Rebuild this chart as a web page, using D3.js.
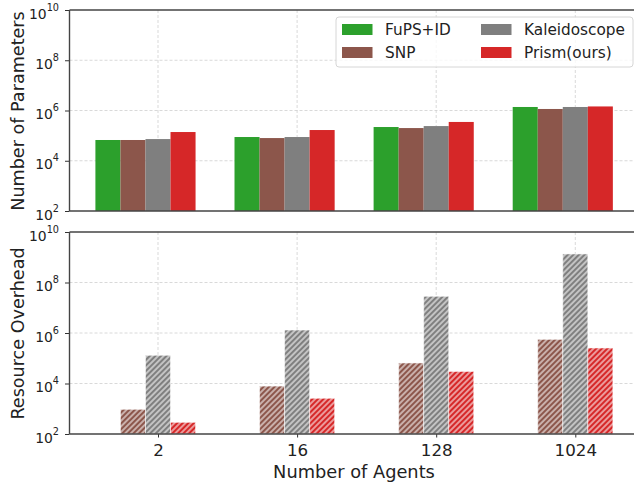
<!DOCTYPE html>
<html>
<head>
<meta charset="utf-8">
<script src="https://cdn.jsdelivr.net/npm/d3@7"></script>
<style>
  body { margin: 0; background: #fff; }
  svg { font-family: "DejaVu Sans", sans-serif; display: block; }
</style>
</head>
<body>
<script>
// chart data
var agents = ["2", "16", "128", "1024"];
var methods = ["FuPS+ID", "SNP", "Kaleidoscope", "Prism(ours)"];
var methodColors = ["#2ca02c", "#8c564b", "#7f7f7f", "#d62728"];

var paramsFuPS = [6.7e4, 8.8e4, 2.2e5, 1.38e6];
var paramsSNP = [6.7e4, 8.0e4, 2.0e5, 1.15e6];
var paramsKaleido = [7.3e4, 8.8e4, 2.4e5, 1.38e6];
var paramsPrism = [1.39e5, 1.67e5, 3.5e5, 1.45e6];

var overheadSNP = [950, 7.9e3, 6.5e4, 5.6e5];
var overheadKaleido = [1.31e5, 1.31e6, 2.84e7, 1.35e9];
var overheadPrism = [290, 2.6e3, 3.0e4, 2.55e5];

var yTicks = [1e2, 1e4, 1e6, 1e8, 1e10];

var width = 634, height = 485;
var left = 69.5, right = 639;
var barFrac = 0.18;
var hatchGap = 3.93;

var svg = d3.select("body").append("svg")
            .attr("width", width)
            .attr("height", height);

// hatch pattern for the overhead bars ("///")
var defs = svg.append("defs");
methodColors.forEach(function(c, i) {
  var p = defs.append("pattern")
              .attr("id", "hatch" + i)
              .attr("patternUnits", "userSpaceOnUse")
              .attr("width", hatchGap)
              .attr("height", hatchGap)
              .attr("patternTransform", "rotate(45)");
  p.append("rect").attr("width", hatchGap).attr("height", hatchGap).attr("fill", c);
  p.append("line")
   .attr("x1", hatchGap / 2).attr("y1", 0).attr("x2", hatchGap / 2).attr("y2", hatchGap)
   .attr("stroke", "#fff").attr("stroke-width", 1.05);
});

var x = d3.scalePoint().domain(agents).range([158, 575.3]);
var bw = x.step() * barFrac;

function panel(top, bottom, series, showX, label) {
  var g = svg.append("g");
  var y = d3.scaleLog().domain([1e2, 1e10]).range([bottom, top]);

  // grid
  g.selectAll(".hgrid").data(yTicks.slice(1, -1)).enter().append("line")
   .attr("x1", left).attr("x2", right)
   .attr("y1", function(d) { return y(d); })
   .attr("y2", function(d) { return y(d); })
   .attr("stroke", "#cfcfcf").attr("stroke-width", 0.8)
   .attr("stroke-dasharray", "3,2");
  g.selectAll(".vgrid").data(agents).enter().append("line")
   .attr("x1", function(d) { return x(d); })
   .attr("x2", function(d) { return x(d); })
   .attr("y1", top).attr("y2", bottom)
   .attr("stroke", "#cfcfcf").attr("stroke-width", 0.8)
   .attr("stroke-dasharray", "3,2");

  // bars
  series.forEach(function(s) {
    g.selectAll(null).data(s.values).enter().append("rect")
     .attr("x", function(d, i) { return x(agents[i]) + (s.offset - 0.5) * bw; })
     .attr("y", function(d) { return y(d); })
     .attr("width", bw)
     .attr("height", function(d) { return bottom - y(d); })
     .attr("fill", s.hatch ? "url(#hatch" + s.idx + ")" : methodColors[s.idx])
     .attr("stroke", s.hatch ? "rgba(255,255,255,0.55)" : "none")
     .attr("stroke-width", 1);
  });

  // y axis, labels as 10 with a superscript exponent
  var yAxis = g.append("g")
               .attr("transform", "translate(" + left + ",0)")
               .call(d3.axisLeft(y).tickValues(yTicks).tickSize(4.5).tickPadding(6).tickFormat(function() { return ""; }));
  yAxis.select(".domain").remove();
  yAxis.selectAll(".tick line").attr("stroke", "#333");
  yAxis.selectAll(".tick text").each(function(d) {
    var t = d3.select(this)
              .attr("font-family", "DejaVu Sans")
              .attr("fill", "#222")
              .attr("dy", null)
              .attr("y", 8);
    t.append("tspan").attr("font-size", 13.9).text("10");
    t.append("tspan").attr("font-size", 9.7).attr("dy", -8).text(Math.round(Math.log10(d)));
  });

  // x axis
  var xAxis = g.append("g")
               .attr("transform", "translate(0," + bottom + ")")
               .call(d3.axisBottom(x).tickSize(showX ? 3.5 : 0));
  xAxis.select(".domain").remove();
  xAxis.selectAll(".tick line").attr("stroke", "#333");
  xAxis.selectAll(".tick text")
       .attr("font-family", "DejaVu Sans")
       .attr("font-size", 16.7)
       .attr("fill", "#222")
       .attr("y", 22)
       .attr("dy", null)
       .style("display", showX ? null : "none");

  // spines
  g.append("line").attr("x1", left).attr("x2", right).attr("y1", top).attr("y2", top)
   .attr("stroke", "#444").attr("stroke-width", 1.4);
  g.append("line").attr("x1", left).attr("x2", right).attr("y1", bottom).attr("y2", bottom)
   .attr("stroke", "#444").attr("stroke-width", 1.4);
  g.append("line").attr("x1", left).attr("x2", left).attr("y1", top).attr("y2", bottom)
   .attr("stroke", "#444").attr("stroke-width", 1.4);

  svg.append("text")
     .attr("transform", "translate(23.5," + ((top + bottom) / 2 + 0.5) + ") rotate(-90)")
     .attr("text-anchor", "middle")
     .attr("font-size", 17.6)
     .attr("fill", "#222")
     .text(label);
}

panel(10, 211, [
  {values: paramsFuPS, idx: 0, offset: -2},
  {values: paramsSNP, idx: 1, offset: -1},
  {values: paramsKaleido, idx: 2, offset: 0},
  {values: paramsPrism, idx: 3, offset: 1}
], false, "Number of Parameters");

panel(232, 434, [
  {values: overheadSNP, idx: 1, offset: -1, hatch: true},
  {values: overheadKaleido, idx: 2, offset: 0, hatch: true},
  {values: overheadPrism, idx: 3, offset: 1, hatch: true}
], true, "Resource Overhead");

svg.append("text")
   .attr("x", 354)
   .attr("y", 478)
   .attr("text-anchor", "middle")
   .attr("font-size", 17.8)
   .attr("fill", "#222")
   .text("Number of Agents");

// legend
var legend = svg.append("g");
legend.append("rect")
      .attr("x", 336).attr("y", 17)
      .attr("width", 297).attr("height", 50)
      .attr("rx", 3)
      .attr("fill", "rgba(255,255,255,0.8)")
      .attr("stroke", "#d6d6d6");
var legendPos = [[342, 29.5], [342, 52.5], [481, 29.5], [481, 52.5]];
methods.forEach(function(m, i) {
  var item = legend.append("g")
                   .attr("transform", "translate(" + legendPos[i][0] + "," + legendPos[i][1] + ")");
  item.append("rect").attr("x", 0).attr("y", -5.5).attr("width", 30.5).attr("height", 11)
      .attr("fill", methodColors[i]);
  item.append("text").attr("x", 43).attr("dy", "0.36em")
      .attr("font-size", 15.3).attr("fill", "#222").text(m);
});
</script>
</body>
</html>
